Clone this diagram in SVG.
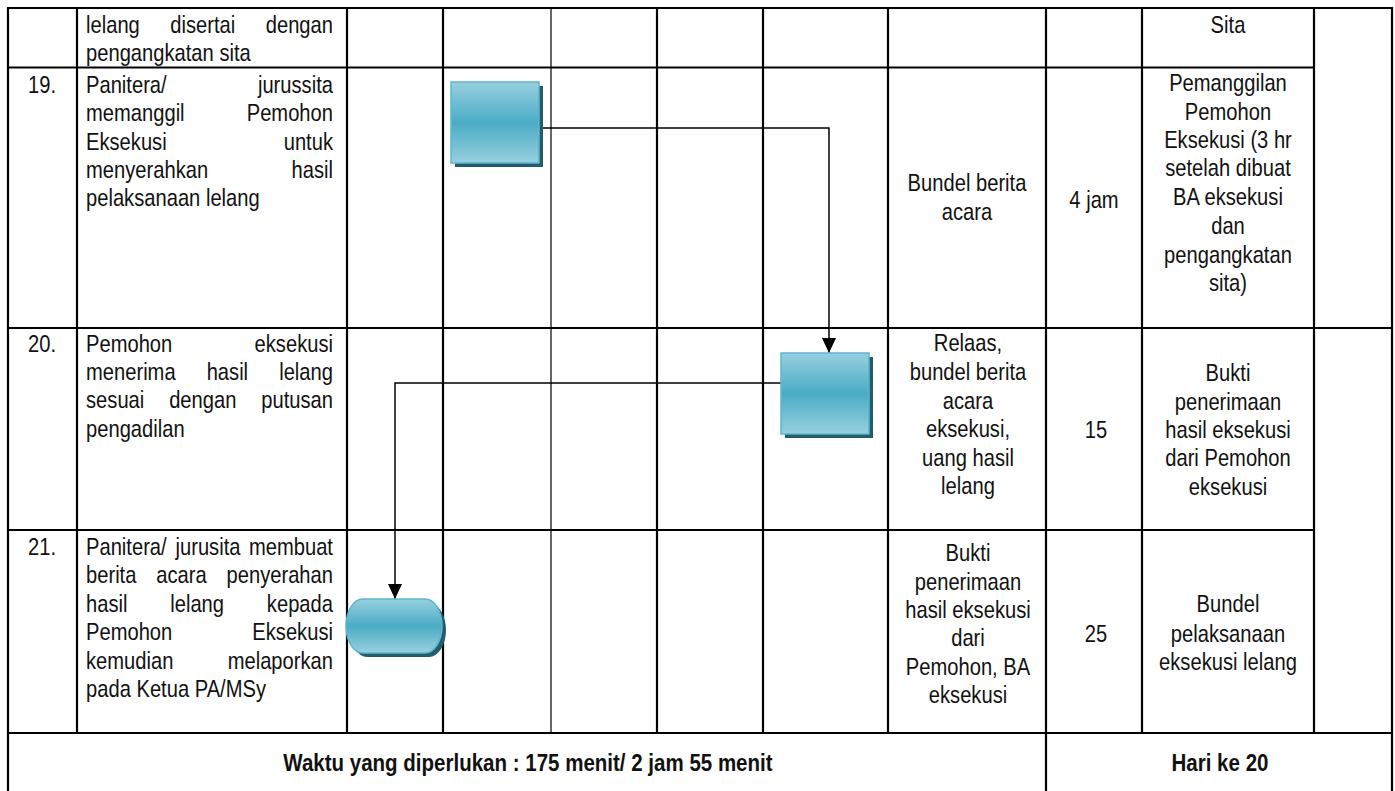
<svg xmlns="http://www.w3.org/2000/svg" width="1395" height="791" viewBox="0 0 1395 791">
<style>
.t{font-family:"Liberation Sans",Arial,sans-serif;font-size:24px;fill:#111}
.c{text-anchor:middle}
.e{text-anchor:end}
.b{font-weight:bold}
.ln{stroke:#000;stroke-width:2.2;fill:none}
.thin{stroke:#000;stroke-width:1.2;fill:none}
.cn{stroke:#000;stroke-width:1.5;fill:none}
.sh{fill:#235d6c}
.sp{fill:url(#g);stroke:#5cb6ce;stroke-width:1.5}
</style>
<defs>
<linearGradient id="g" x1="0" y1="0" x2="0" y2="1">
<stop offset="0" stop-color="#98d0de"/>
<stop offset="0.5" stop-color="#4aacc6"/>
<stop offset="1" stop-color="#98d0de"/>
</linearGradient>
<marker id="ah" markerUnits="userSpaceOnUse" markerWidth="15" markerHeight="14" viewBox="0 0 15 14" refX="15" refY="7" orient="auto">
<path d="M0,0 L15,7 L0,14 Z" fill="#000"/>
</marker>
</defs>
<g id="table">
<line class="ln" x1="8" y1="8" x2="1392" y2="8"/>
<line class="ln" x1="8" y1="67.5" x2="1314" y2="67.5"/>
<line class="ln" x1="8" y1="328" x2="1392" y2="328"/>
<line class="ln" x1="8" y1="530" x2="1314" y2="530"/>
<line class="ln" x1="8" y1="733" x2="1392" y2="733"/>
<line class="ln" x1="8" y1="7" x2="8" y2="791"/>
<line class="ln" x1="77" y1="8" x2="77" y2="733"/>
<line class="ln" x1="347" y1="8" x2="347" y2="733"/>
<line class="ln" x1="443" y1="8" x2="443" y2="733"/>
<line class="thin" x1="551" y1="8" x2="551" y2="733"/>
<line class="ln" x1="657" y1="8" x2="657" y2="733"/>
<line class="ln" x1="763" y1="8" x2="763" y2="733"/>
<line class="ln" x1="888" y1="8" x2="888" y2="733"/>
<line class="ln" x1="1046" y1="8" x2="1046" y2="791"/>
<line class="ln" x1="1142" y1="8" x2="1142" y2="733"/>
<line class="ln" x1="1314" y1="8" x2="1314" y2="733"/>
<line class="ln" x1="1392" y1="7" x2="1392" y2="791"/>
</g>
<g id="connectors">
<path class="cn" d="M539,128 H829 V353" marker-end="url(#ah)"/>
<path class="cn" d="M781,383 H395 V599" marker-end="url(#ah)"/>
</g>
<g id="node-19">
<rect class="sh" x="455" y="86" width="88" height="81"/>
<rect class="sp" x="451" y="82" width="88" height="81"/>
</g>
<g id="node-20">
<rect class="sh" x="785" y="357" width="88" height="81"/>
<rect class="sp" x="781" y="353" width="88" height="81"/>
</g>
<g id="node-21">
<path class="sh" d="M367,603 H429 A17,27 0 0 1 429,657 H367 A17,27 0 0 1 367,603 Z"/>
<path class="sp" d="M363,599 H425 A17,27 0 0 1 425,653 H363 A17,27 0 0 1 363,599 Z"/>
</g>
<g id="row-18" class="t" transform="scale(0.84,1)">
<text x="102.4" y="33">lelang</text><text class="c" x="241.3" y="33">disertai</text><text class="e" x="396.4" y="33">dengan</text>
<text x="102.4" y="61">pengangkatan sita</text>
<text class="c" x="1461.9" y="33">Sita</text>
</g>
<g id="row-19" class="t" transform="scale(0.84,1)">
<text class="c" x="50" y="93">19.</text>
<text x="102.4" y="93">Panitera/</text><text class="e" x="396.4" y="93">jurussita</text>
<text x="102.4" y="121.3">memanggil</text><text class="e" x="396.4" y="121.3">Pemohon</text>
<text x="102.4" y="149.6">Eksekusi</text><text class="e" x="396.4" y="149.6">untuk</text>
<text x="102.4" y="177.9">menyerahkan</text><text class="e" x="396.4" y="177.9">hasil</text>
<text x="102.4" y="206.2">pelaksanaan lelang</text>
<text class="c" x="1151.2" y="191">Bundel berita</text>
<text class="c" x="1151.2" y="220">acara</text>
<text class="c" x="1302.4" y="208">4 jam</text>
<text class="c" x="1461.9" y="91">Pemanggilan</text>
<text class="c" x="1461.9" y="120">Pemohon</text>
<text class="c" x="1461.9" y="148">Eksekusi (3 hr</text>
<text class="c" x="1461.9" y="176">setelah dibuat</text>
<text class="c" x="1461.9" y="205">BA eksekusi</text>
<text class="c" x="1461.9" y="234">dan</text>
<text class="c" x="1461.9" y="263">pengangkatan</text>
<text class="c" x="1461.9" y="291">sita)</text>
</g>
<g id="row-20" class="t" transform="scale(0.84,1)">
<text class="c" x="50" y="352">20.</text>
<text x="102.4" y="352">Pemohon</text><text class="e" x="396.4" y="352">eksekusi</text>
<text x="102.4" y="380">menerima</text><text class="c" x="270.7" y="380">hasil</text><text class="e" x="396.4" y="380">lelang</text>
<text x="102.4" y="408.5">sesuai</text><text class="c" x="241.4" y="408.5">dengan</text><text class="e" x="396.4" y="408.5">putusan</text>
<text x="102.4" y="437">pengadilan</text>
<text class="c" x="1152.4" y="351">Relaas,</text>
<text class="c" x="1152.4" y="380">bundel berita</text>
<text class="c" x="1152.4" y="409">acara</text>
<text class="c" x="1152.4" y="437">eksekusi,</text>
<text class="c" x="1152.4" y="466">uang hasil</text>
<text class="c" x="1152.4" y="494">lelang</text>
<text class="c" x="1304.8" y="438">15</text>
<text class="c" x="1461.9" y="381">Bukti</text>
<text class="c" x="1461.9" y="410">penerimaan</text>
<text class="c" x="1461.9" y="438">hasil eksekusi</text>
<text class="c" x="1461.9" y="466">dari Pemohon</text>
<text class="c" x="1461.9" y="495">eksekusi</text>
</g>
<g id="row-21" class="t" transform="scale(0.84,1)">
<text class="c" x="50" y="555">21.</text>
<text x="102.4" y="555">Panitera/</text><text class="c" x="247.6" y="555">jurusita</text><text class="e" x="396.4" y="555">membuat</text>
<text x="102.4" y="583.4">berita</text><text class="c" x="216" y="583.4">acara</text><text class="e" x="396.4" y="583.4">penyerahan</text>
<text x="102.4" y="611.8">hasil</text><text class="c" x="234.7" y="611.8">lelang</text><text class="e" x="396.4" y="611.8">kepada</text>
<text x="102.4" y="640.2">Pemohon</text><text class="e" x="396.4" y="640.2">Eksekusi</text>
<text x="102.4" y="668.6">kemudian</text><text class="e" x="396.4" y="668.6">melaporkan</text>
<text x="102.4" y="697">pada Ketua PA/MSy</text>
<text class="c" x="1152.4" y="561">Bukti</text>
<text class="c" x="1152.4" y="590">penerimaan</text>
<text class="c" x="1152.4" y="618">hasil eksekusi</text>
<text class="c" x="1152.4" y="646">dari</text>
<text class="c" x="1152.4" y="675">Pemohon, BA</text>
<text class="c" x="1152.4" y="703">eksekusi</text>
<text class="c" x="1304.8" y="642">25</text>
<text class="c" x="1461.9" y="612">Bundel</text>
<text class="c" x="1461.9" y="642">pelaksanaan</text>
<text class="c" x="1461.9" y="670">eksekusi lelang</text>
</g>
<g id="footer" class="t b" transform="scale(0.855,1)">
<text class="c" x="617.5" y="771">Waktu yang diperlukan : 175 menit/ 2 jam 55 menit</text>
<text class="c" x="1426.9" y="771">Hari ke 20</text>
</g>
</svg>
